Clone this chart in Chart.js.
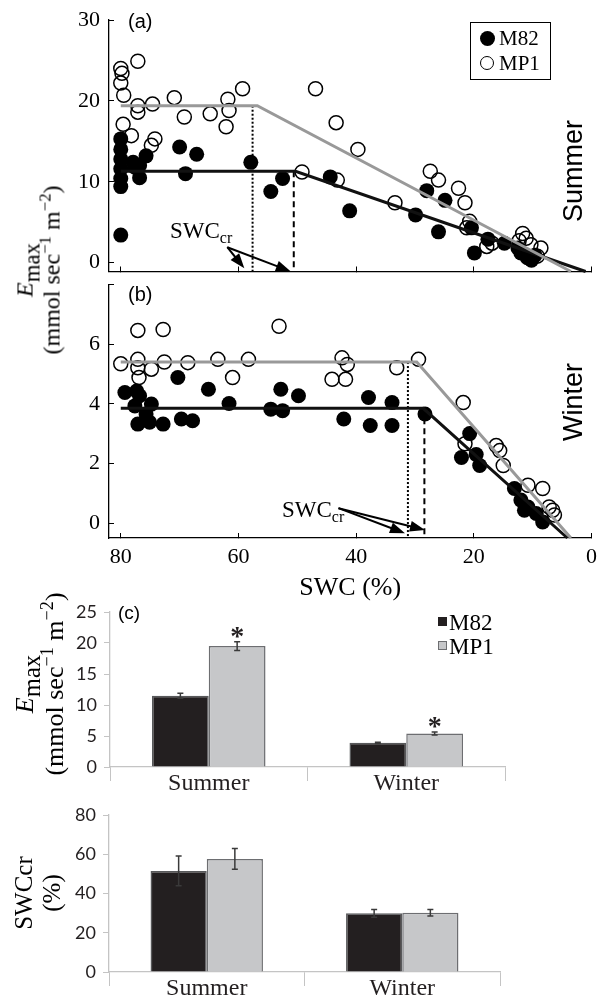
<!DOCTYPE html>
<html>
<head>
<meta charset="utf-8">
<script src="https://cdn.jsdelivr.net/npm/chart.js@4.4.1/dist/chart.umd.min.js"></script>
<style>
body { margin: 0; background: #fff; }
#page { position: relative; width: 600px; height: 1006px; overflow: hidden; font-family: 'Liberation Serif', serif; color: #000; }
canvas { position: absolute; left: 0; }
.txt { position: absolute; white-space: nowrap; line-height: 1; }
.rot { position: absolute; white-space: nowrap; line-height: 1; text-align: center; transform: translate(-50%, -50%) rotate(-90deg); }
.sans { font-family: 'Liberation Sans', sans-serif; }
sup { font-size: 0.7em; line-height: 0; }
.box { position: absolute; border: 1.5px solid #000; }
.dot { position: absolute; border-radius: 50%; box-sizing: border-box; }
.sq { position: absolute; box-sizing: border-box; }
</style>
</head>
<body>
<div id="page">
  <canvas id="summer" width="600" height="280" style="top:0px"></canvas>
  <canvas id="winter" width="600" height="330" style="top:276px"></canvas>
  <canvas id="emax" width="600" height="205" style="top:595px"></canvas>
  <canvas id="swccr" width="600" height="206" style="top:800px"></canvas>

  <div class="txt sans" style="left:128px; top:11px; font-size:20px">(a)</div>
  <div class="txt sans" style="left:128px; top:284px; font-size:20px">(b)</div>
  <div class="txt sans" style="left:118px; top:603px; font-size:19px">(c)</div>

  <div class="rot sans" style="left:573px; top:171px; font-size:27px">Summer</div>
  <div class="rot sans" style="left:573px; top:402px; font-size:27px">Winter</div>

  <div class="rot" style="left:38px; top:270px; font-size:24px; line-height:26px">
    <i>E</i><span style="font-size:0.95em; position:relative; top:0.3em">max</span><br>(mmol sec<sup>−1</sup> m<sup>−2</sup>)
  </div>
  <div class="rot" style="left:40px; top:684px; font-size:26px; line-height:30px">
    <i>E</i><span style="font-size:0.95em; position:relative; top:0.3em">max</span><br>(mmol sec<sup>−1</sup> m<sup>−2</sup>)
  </div>
  <div class="rot" style="left:38px; top:893px; font-size:25px; line-height:28px">SWCcr<br>(%)</div>

  <div class="txt" style="left:170px; top:219px; font-size:23px">SWC<span style="font-size:16px; position:relative; top:5px">cr</span></div>
  <div class="txt" style="left:282px; top:498px; font-size:23px">SWC<span style="font-size:16px; position:relative; top:5px">cr</span></div>

  <div class="box" style="left:470px; top:22px; width:79px; height:56px">
    <div class="dot" style="left:9px; top:8px; width:15px; height:15px; background:#000"></div>
    <div class="txt" style="left:28px; top:5px; font-size:21px">M82</div>
    <div class="dot" style="left:9px; top:33px; width:14px; height:14px; border:1.5px solid #000"></div>
    <div class="txt" style="left:28px; top:30px; font-size:21px">MP1</div>
  </div>

  <div class="sq" style="left:438px; top:617px; width:9px; height:9px; background:#231f20"></div>
  <div class="txt" style="left:449px; top:611px; font-size:23px">M82</div>
  <div class="sq" style="left:438px; top:641px; width:9px; height:9px; background:#c6c7c9; border:1px solid #6d6e71"></div>
  <div class="txt" style="left:449px; top:635px; font-size:23px">MP1</div>
</div>

<script>
// x axis of the two scatter panels: soil water content (%), drawn from 80 down to 0
const swcTicks = [80, 60, 40, 20, 0];

// (a) summer, points are [SWC %, Emax]
const summerM82 = [
    [80, 15.3], [80, 14.0], [80, 12.8], [80, 11.6], [80, 10.4], [80, 9.4], [80, 3.4],
    [77.6, 11.8], [76.8, 10.5], [77.9, 12.4], [75.7, 13.2], [76.8, 12.0],
    [70.0, 14.3], [67.1, 13.4], [69.0, 11.0],
    [57.9, 12.4], [54.5, 8.8], [52.5, 10.4],
    [44.4, 10.6], [41.1, 6.4], [29.9, 5.9], [28.0, 8.9], [24.9, 7.7], [26.0, 3.8],
    [20.4, 4.3], [19.9, 1.2], [17.6, 2.9], [14.8, 2.4], [12.5, 1.8], [12.0, 1.2],
    [10.9, 0.6], [10.2, 0.3], [9.6, 0.9]
];
const summerMP1 = [
    [80, 24.0], [79.8, 23.4], [80, 22.2], [79.5, 20.7], [77.1, 24.9], [77.1, 19.4], [77.1, 18.6], [74.6, 19.6],
    [79.6, 17.1], [78.2, 15.7], [74.2, 15.3], [74.8, 14.5],
    [70.9, 20.4], [69.2, 18.0], [64.8, 18.4], [61.8, 20.2], [61.6, 18.8], [62.1, 16.8], [59.3, 21.5],
    [46.9, 21.5], [43.4, 17.3], [39.7, 14.0], [49.2, 11.2], [43.2, 10.2], [33.4, 7.4],
    [27.4, 11.3], [26.0, 10.2], [22.6, 9.2], [21.5, 7.4], [20.7, 5.1], [21.2, 4.3],
    [17.8, 2.0], [16.9, 2.4], [12.3, 2.7], [11.7, 3.6], [11.1, 3.0], [10.3, 2.2], [8.6, 1.8], [9.2, 0.8]
];
const summerFitM82 = [[80, 11.3], [50.3, 11.3], [1.0, -1.1]];
const summerFitMP1 = [[80, 19.4], [56.8, 19.4], [3.5, -1.1]];
const summerCr = [50.6, 57.6]; // M82, MP1
const summerArrows = [[[61.9, 1.9], [59.0, -0.7]], [[61.9, 1.9], [51.1, -1.1]]];

// (b) winter
const winterM82 = [
    [79.3, 4.38], [77.3, 4.43], [76.8, 4.27], [77.6, 3.93], [74.8, 3.99], [75.7, 3.66], [77.1, 3.32], [75.1, 3.38], [72.8, 3.32],
    [70.3, 4.88], [69.7, 3.49], [67.8, 3.43], [65.1, 4.49], [61.6, 4.01], [54.5, 3.82], [52.8, 4.49], [52.5, 3.77], [49.8, 4.27],
    [42.1, 3.49], [37.9, 4.21], [37.6, 3.27], [33.9, 4.04], [33.9, 3.27], [28.3, 3.66],
    [20.7, 3.0], [22.1, 2.2], [19.6, 2.3], [19.0, 1.93], [13.1, 1.16], [12.0, 0.77], [11.4, 0.43], [10.8, 0.54], [9.4, 0.32], [8.3, 0.04]
];
const winterMP1 = [
    [80, 5.34], [77.1, 6.46], [77.1, 5.49], [77.1, 5.21], [76.9, 4.88], [74.8, 5.16], [72.8, 6.49], [72.6, 5.4], [68.6, 5.38],
    [63.5, 5.49], [61.0, 4.88], [58.3, 5.49], [53.1, 6.6], [42.4, 5.54], [41.5, 5.32], [44.1, 4.82], [41.8, 4.82], [33.1, 5.21], [29.4, 5.49],
    [21.8, 4.04], [21.5, 2.66], [16.2, 2.6], [15.6, 2.43], [15.0, 1.93], [10.8, 1.27], [8.3, 1.16], [7.2, 0.54], [6.6, 0.43], [6.3, 0.27]
];
const winterFitM82 = [[80, 3.85], [28.6, 3.85], [4.1, -0.5]];
const winterFitMP1 = [[80, 5.4], [29.7, 5.4], [3.5, -0.5]];
const winterCr = [28.4, 31.2];
const winterArrows = [[[43.0, 0.5], [31.7, -0.34]], [[43.0, 0.5], [28.3, -0.23]]];

// (c) bar panels
const seasons = ["Summer", "Winter"];
const emaxM82 = [11.5, 3.9];
const emaxM82Err = [0.4, 0.1];
const emaxMP1 = [19.5, 5.4];
const emaxMP1Err = [0.7, 0.25];
const swcCrM82 = [51.5, 29.9];
const swcCrM82Err = [7.6, 2.0];
const swcCrMP1 = [57.6, 30.2];
const swcCrMP1Err = [5.3, 1.7];

Chart.defaults.font.family = "'Liberation Serif', serif";
Chart.defaults.color = "#000";

const arrowsByChart = { summer: summerArrows, winter: winterArrows };

// fixed axis sizes, and no extra room for edge labels, so the plot areas line up
function fixSize(s, w, h) {
    if (w !== null) s.width = w;
    if (h !== null) s.height = h;
    s.paddingLeft = s.paddingRight = s.paddingTop = s.paddingBottom = 0;
}

const arrowPlugin = {
    id: "arrows",
    afterDatasetsDraw(chart) {
        const items = arrowsByChart[chart.canvas.id] || [];
        const { ctx } = chart;
        const x = chart.scales.x, y = chart.scales.y;
        items.forEach(([from, to]) => {
            const x0 = x.getPixelForValue(from[0]), y0 = y.getPixelForValue(from[1]);
            const x1 = x.getPixelForValue(to[0]), y1 = y.getPixelForValue(to[1]);
            const a = Math.atan2(y1 - y0, x1 - x0);
            const c = Math.cos(a), s = Math.sin(a);
            ctx.save();
            ctx.strokeStyle = "#000";
            ctx.fillStyle = "#000";
            ctx.lineWidth = 2;
            ctx.beginPath();
            ctx.moveTo(x0, y0);
            ctx.lineTo(x1 - 10 * c, y1 - 10 * s);
            ctx.stroke();
            ctx.beginPath();
            ctx.moveTo(x1, y1);
            ctx.lineTo(x1 - 15 * c + 5.5 * s, y1 - 15 * s - 5.5 * c);
            ctx.lineTo(x1 - 15 * c - 5.5 * s, y1 - 15 * s + 5.5 * c);
            ctx.closePath();
            ctx.fill();
            ctx.restore();
        });
    }
};

const errorBarPlugin = {
    id: "errorBars",
    afterDatasetsDraw(chart) {
        const { ctx } = chart;
        const yScale = chart.scales.y;
        chart.data.datasets.forEach((ds, i) => {
            const meta = chart.getDatasetMeta(i);
            meta.data.forEach((bar, j) => {
                const v = ds.data[j], e = ds.errors[j];
                const top = yScale.getPixelForValue(v + e);
                const bottom = yScale.getPixelForValue(v - e);
                ctx.save();
                ctx.strokeStyle = "#3a3a3a";
                ctx.lineWidth = 1.5;
                ctx.beginPath();
                ctx.moveTo(bar.x, top);
                ctx.lineTo(bar.x, bottom);
                ctx.moveTo(bar.x - 3, top);
                ctx.lineTo(bar.x + 3, top);
                ctx.moveTo(bar.x - 3, bottom);
                ctx.lineTo(bar.x + 3, bottom);
                ctx.stroke();
                if (ds.stars && ds.stars[j]) {
                    ctx.fillStyle = "#231f20";
                    ctx.font = "bold 28px 'Liberation Serif'";
                    ctx.textAlign = "center";
                    ctx.textBaseline = "middle";
                    ctx.fillText("*", bar.x, top - 4);
                }
                ctx.restore();
            });
        });
    }
};

function toXY(pairs) {
    return pairs.map(p => ({ x: p[0], y: p[1] }));
}

function scatterChart(id, opt) {
    const vline = (x, yTop, dash) => ({
        type: "line",
        data: [{ x: x, y: yTop }, { x: x, y: opt.yMin }],
        borderColor: "#000", borderWidth: 2, borderDash: dash, pointRadius: 0, order: 2
    });
    return new Chart(id, {
        type: "scatter",
        data: {
            datasets: [
                { type: "line", data: toXY(opt.fitMP1), borderColor: "#999", borderWidth: 3, pointRadius: 0, order: 0 },
                { type: "line", data: toXY(opt.fitM82), borderColor: "#111", borderWidth: 3, pointRadius: 0, order: 1 },
                vline(opt.cr[1], opt.fitMP1[0][1], [2, 2]),
                vline(opt.cr[0], opt.fitM82[0][1], [6, 4]),
                { data: toXY(opt.m82), backgroundColor: "#000", borderColor: "#000", borderWidth: 0, pointRadius: 7.5, order: 3 },
                { data: toXY(opt.mp1), backgroundColor: "rgba(0,0,0,0)", borderColor: "#000", borderWidth: 1.5, pointRadius: 7, order: 4 }
            ]
        },
        options: {
            responsive: false,
            animation: false,
            clip: false,
            layout: { padding: opt.padding },
            plugins: { legend: { display: false }, tooltip: { enabled: false } },
            scales: {
                x: {
                    type: "linear", min: 0, max: 82, reverse: true,
                    afterBuildTicks: s => { s.ticks = swcTicks.map(v => ({ value: v })); },
                    afterFit: s => fixSize(s, null, opt.xHeight),
                    border: { color: "#000", width: 1.3 },
                    grid: { drawOnChartArea: false, tickLength: -5, color: "#000", lineWidth: 1 },
                    ticks: { display: opt.xLabels, font: { size: 22 }, padding: 10.8 },
                    title: { display: opt.xLabels, text: "SWC (%)", font: { size: 26 }, padding: { bottom: 2.4 } }
                },
                y: {
                    min: opt.yMin, max: opt.yMax,
                    afterBuildTicks: s => { s.ticks = opt.yTicks.map(v => ({ value: v })); },
                    afterFit: s => fixSize(s, 109, null),
                    border: { color: "#000", width: 1.3 },
                    grid: { drawOnChartArea: false, tickLength: -5, color: "#000", lineWidth: 1 },
                    ticks: { font: { size: 22 }, padding: 14, callback: v => opt.yLabels.includes(v) ? v : "" }
                }
            }
        },
        plugins: [arrowPlugin]
    });
}

function barChart(id, opt) {
    return new Chart(id, {
        type: "bar",
        data: {
            labels: seasons,
            datasets: [
                { label: "M82", data: opt.m82, errors: opt.m82Err, backgroundColor: "#231f20", borderColor: "#58595b", borderWidth: 1.5 },
                { label: "MP1", data: opt.mp1, errors: opt.mp1Err, stars: opt.stars, backgroundColor: "#c6c7c9", borderColor: "#6d6e71", borderWidth: 1.5 }
            ]
        },
        options: {
            responsive: false,
            animation: false,
            layout: { padding: opt.padding },
            datasets: { bar: { categoryPercentage: 0.575, barPercentage: 1 } },
            plugins: { legend: { display: false }, tooltip: { enabled: false } },
            scales: {
                x: {
                    afterFit: s => fixSize(s, null, opt.xHeight),
                    border: { color: "#c4c4c4", width: 1.3 },
                    grid: { drawOnChartArea: false, tickLength: 14, color: "#c4c4c4" },
                    ticks: { font: { size: 24 }, color: "#231f20", padding: -11.4 }
                },
                y: {
                    min: 0, max: opt.yMax,
                    afterFit: s => fixSize(s, opt.yWidth, null),
                    border: { color: "#c4c4c4", width: 1.3 },
                    grid: { drawOnChartArea: false, tickLength: 6, color: "#c4c4c4" },
                    ticks: { stepSize: opt.step, font: { family: "Lato", size: 18 }, color: "#231f20", padding: 7 }
                }
            }
        },
        plugins: [errorBarPlugin]
    });
}

scatterChart("summer", {
    m82: summerM82, mp1: summerMP1, fitM82: summerFitM82, fitMP1: summerFitMP1, cr: summerCr,
    yMin: -1.1, yMax: 30, yTicks: [0, 10, 20, 30], yLabels: [0, 10, 20, 30],
    xLabels: false, xHeight: 0,
    padding: { left: 0, right: 6, top: 20, bottom: 6.5 }
});

scatterChart("winter", {
    m82: winterM82, mp1: winterMP1, fitM82: winterFitM82, fitMP1: winterFitMP1, cr: winterCr,
    yMin: -0.5, yMax: 8, yTicks: [0, 2, 4, 6, 8], yLabels: [0, 2, 4, 6],
    xLabels: true, xHeight: 68,
    padding: { left: 0, right: 6, top: 7, bottom: 0 }
});

barChart("emax", {
    m82: emaxM82, m82Err: emaxM82Err, mp1: emaxMP1, mp1Err: emaxMP1Err, stars: [true, true],
    yMax: 25, step: 5, yWidth: 110, xHeight: 33,
    padding: { left: 0, right: 95, top: 17, bottom: 0 }
});

barChart("swccr", {
    m82: swcCrM82, m82Err: swcCrM82Err, mp1: swcCrMP1, mp1Err: swcCrMP1Err, stars: [false, false],
    yMax: 80, step: 20, yWidth: 109, xHeight: 34,
    padding: { left: 0, right: 100, top: 15, bottom: 0 }
});
</script>
</body>
</html>
